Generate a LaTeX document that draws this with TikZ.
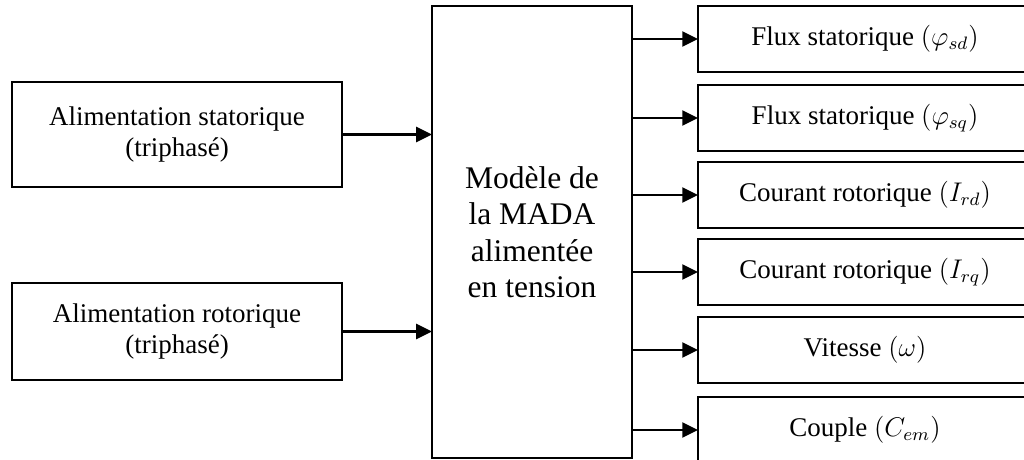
\documentclass[tikz,border=0pt]{standalone}
\usepackage{fontspec}
\setmainfont{Liberation Serif}
\usetikzlibrary{arrows.meta}

\begin{document}
\begin{tikzpicture}[x=0.4444pt, y=-0.4444pt,
  every node/.style={inner sep=0pt, outer sep=0pt},
  blk/.style={draw, line width=1pt, align=center,
    font=\fontsize{12}{13.8}\selectfont},
  srcbox/.style={blk, minimum width=146.7pt},
  outbox/.style={blk, minimum width=148.4pt, minimum height=29.3pt},
  model/.style={draw, line width=1pt, align=center,
    minimum width=88.9pt, minimum height=200.9pt,
    font=\fontsize{14}{16.2}\selectfont},
  link/.style={line width=1.1pt, -{Triangle[length=7pt,width=6.6pt]}}]

\clip (0,0) rectangle (1024,459);

% supply blocks
\node[srcbox, minimum height=46.7pt] (sta) at (177,134.5)
  {Alimentation statorique\\(triphasé)};
\node[srcbox, minimum height=43.1pt] (rot) at (177,331.5)
  {Alimentation rotorique\\(triphasé)};

% machine model
\node[model] (mada) at (532,232)
  {Modèle de\\la MADA\\alimentée\\en tension};

% output quantities
\node[outbox] (o1) at (865,39)  {Flux statorique $\left(\varphi_{sd}\right)$};
\node[outbox] (o2) at (865,118) {Flux statorique $\bigl(\varphi_{sq}\bigr)$};
\node[outbox] (o3) at (865,195) {Courant rotorique $\left(I_{rd}\right)$};
\node[outbox] (o4) at (865,272) {Courant rotorique $\bigl(I_{rq}\bigr)$};
\node[outbox] (o5) at (865,350) {Vitesse $(\omega)$};
\node[outbox] (o6) at (865,430) {Couple $\left(C_{em}\right)$};

% inputs
\draw[link] (sta.east) -- (sta.east -| mada.west);
\draw[link] (rot.east) -- (rot.east -| mada.west);

% outputs
\foreach \o in {o1,o2,o3,o4,o5,o6}
  \draw[link] (\o.west -| mada.east) -- (\o.west);

\end{tikzpicture}
\end{document}
